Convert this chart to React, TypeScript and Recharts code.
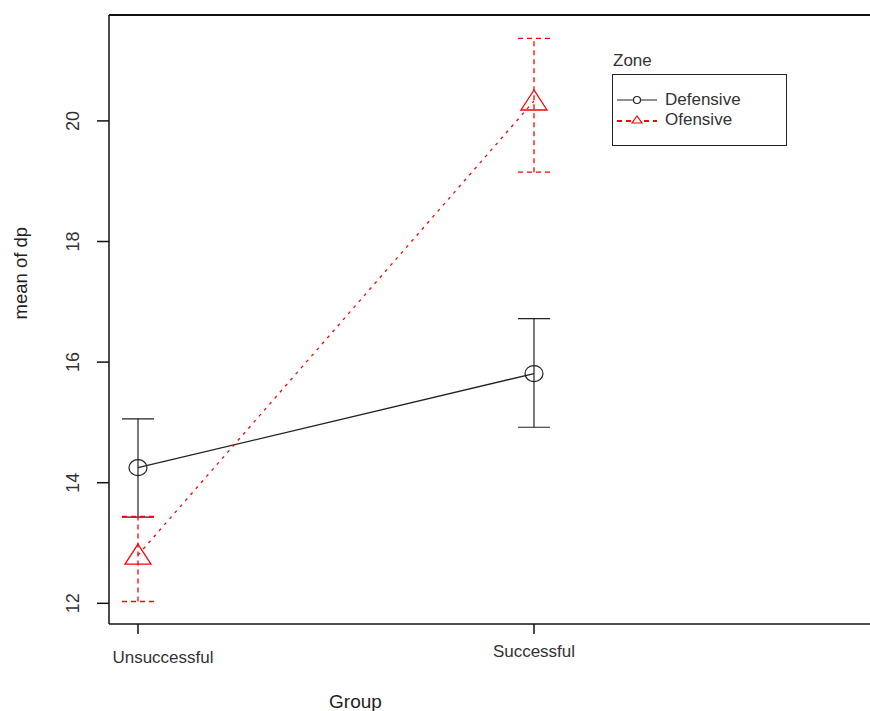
import { ComposedChart, Line, XAxis, YAxis, ErrorBar, ReferenceLine } from 'recharts'

const groups = ['Unsuccessful', 'Successful']
const groupPos = [1, 2]

const defMean = [14.25, 15.81]
const defLow = [13.43, 14.92]
const defHigh = [15.06, 16.72]

const offMean = [12.8, 20.33]
const offLow = [12.03, 19.15]
const offHigh = [13.44, 21.37]

const yTicks = [12, 14, 16, 18, 20]
const Y_MIN = 11.657
const Y_MAX = 21.756
const X_MIN = 0.9268
const X_MAX = 2.8485

const data = groups.map((g, i) => ({
  group: g,
  x: groupPos[i],
  def: defMean[i],
  defErr: [defMean[i] - defLow[i], defHigh[i] - defMean[i]],
  off: offMean[i],
  offErr: [offMean[i] - offLow[i], offHigh[i] - offMean[i]],
}))

const FONT = 'Liberation Sans, Arial, sans-serif'
const TEXT = '#333'
const RED = '#ff0000'

// open triangle marker, like pch=2
const Triangle = (props: any) => {
  const { cx, cy } = props
  if (cx == null || cy == null) return null
  return (
    <polygon
      points={`${cx},${cy - 11} ${cx - 13},${cy + 9} ${cx + 13},${cy + 9}`}
      fill="none"
      stroke={RED}
      strokeWidth={1.3}
    />
  )
}

const Circle = (props: any) => {
  const { cx, cy } = props
  if (cx == null || cy == null) return null
  return <ellipse cx={cx} cy={cy} rx={9} ry={8} fill="none" stroke="#222" strokeWidth={1.2} />
}

const YTick = ({ x, y, payload }: any) => (
  <text
    x={x}
    y={y}
    transform={`rotate(-90, ${x}, ${y})`}
    textAnchor="middle"
    fontSize={18}
    fontFamily={FONT}
    fill={TEXT}
  >
    {payload.value}
  </text>
)

const XTick = ({ x, y, payload, index }: any) => {
  // the first label sits a little right of its tick in the original
  const shift = index === 0 ? 25 : 0
  const drop = index === 0 ? 6 : 0
  return (
    <text x={x + shift} y={y + drop} textAnchor="middle" fontSize={17} fontFamily={FONT} fill={TEXT} dy="0.71em">
      {groups[groupPos.indexOf(payload.value)]}
    </text>
  )
}

const ZoneLegend = () => (
  <div style={{ position: 'absolute', left: 612, top: 51, fontFamily: FONT, color: TEXT }}>
    <div style={{ fontSize: 17, marginBottom: 3, marginLeft: 1 }}>Zone</div>
    <div style={{ border: '1.5px solid #222', width: 175, height: 72, boxSizing: 'border-box', paddingTop: 15 }}>
      <div style={{ display: 'flex', alignItems: 'center', height: 20 }}>
        <svg width={48} height={20}>
          <line x1={4} y1={10} x2={44} y2={10} stroke="#222" strokeWidth={1.2} />
          <circle cx={24} cy={10} r={3.5} fill="#fff" stroke="#222" strokeWidth={1.2} />
        </svg>
        <span style={{ fontSize: 17, marginLeft: 4 }}>Defensive</span>
      </div>
      <div style={{ display: 'flex', alignItems: 'center', height: 20 }}>
        <svg width={48} height={20}>
          <line x1={4} y1={11} x2={44} y2={11} stroke={RED} strokeWidth={2} strokeDasharray="5 4" />
          <polygon points="24,6 19,13 29,13" fill="#fff" stroke={RED} strokeWidth={1.2} />
        </svg>
        <span style={{ fontSize: 17, marginLeft: 4 }}>Ofensive</span>
      </div>
    </div>
  </div>
)

export default function App() {
  return (
    <div style={{ position: 'relative', width: 870, height: 711, background: '#fff' }}>
      <style>{'body{margin:0}'}</style>
      <ComposedChart width={870} height={711} data={data} margin={{ top: 15, right: 0, bottom: 0, left: 0 }}>
        <XAxis
          dataKey="x"
          type="number"
          domain={[X_MIN, X_MAX]}
          ticks={groupPos}
          allowDataOverflow
          height={87}
          tickSize={10}
          tickMargin={11}
          tick={<XTick />}
          stroke="#111"
          strokeWidth={1.5}
          label={{ value: 'Group', position: 'insideBottom', dx: -134, offset: 3, fontSize: 19, fontFamily: FONT, fill: '#222' }}
        />
        <YAxis
          type="number"
          domain={[Y_MIN, Y_MAX]}
          ticks={yTicks}
          allowDataOverflow
          width={109}
          tickSize={12}
          tickMargin={18}
          tick={<YTick />}
          stroke="#111"
          strokeWidth={1.5}
          label={{ value: 'mean of dp', angle: -90, position: 'insideLeft', offset: 20, fontSize: 18.5, fontFamily: FONT, fill: '#222' }}
        />
        <ReferenceLine y={Y_MAX} stroke="#111" strokeWidth={2} />
        <Line
          dataKey="def"
          stroke="#222"
          strokeWidth={1.3}
          dot={<Circle />}
          activeDot={false}
          isAnimationActive={false}
        >
          <ErrorBar dataKey="defErr" width={16} stroke="#222" strokeWidth={1.2} isAnimationActive={false} />
        </Line>
        <Line
          dataKey="off"
          stroke={RED}
          strokeWidth={1.3}
          strokeDasharray="3 5"
          dot={<Triangle />}
          activeDot={false}
          isAnimationActive={false}
        >
          <ErrorBar dataKey="offErr" width={16} stroke={RED} strokeWidth={1.3} strokeDasharray="5 4" isAnimationActive={false} />
        </Line>
      </ComposedChart>
      <ZoneLegend />
    </div>
  )
}
